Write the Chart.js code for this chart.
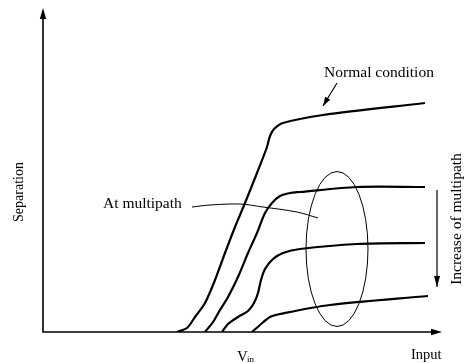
<!DOCTYPE html>
<html>
<head>
<meta charset="utf-8">
<script src="https://cdn.jsdelivr.net/npm/chart.js@4/dist/chart.umd.min.js"></script>
<style>
  html, body { margin: 0; padding: 0; background: #fff; }
  #wrap { width: 469px; height: 363px; }
</style>
</head>
<body>
<div id="wrap"><canvas id="chart" width="469" height="363"></canvas></div>
<script>
// Separation vs input curves (arbitrary units)
const normalCurve = [[134,0],[144,4],[152,15],[162,29],[172,52],[182,79],[192,105],[202,129],[214,159],[224,185],[227,196],[231,203],[240,209],[280,217],[382,229]];
const multipath1 = [[162,0],[170,10],[177,22],[185,35],[195,55],[205,79],[214,99],[222,119],[229,129],[237,136],[247,139],[257,140],[314,145],[382,145]];
const multipath2 = [[179,0],[185,8],[195,15],[205,21],[211,29],[215,39],[218,52],[222,63],[230,73],[240,79],[257,83],[314,88],[382,89]];
const multipath3 = [[209,0],[217,7],[227,15],[237,18],[287,27],[385,36]];

// annotations
const leaderLine = [[149,125],[167,127],[197,128],[220,125],[254,120],[275,114]];
const ellipse = { cx: 294, cy: 83, rx: 31, ry: 77.5 };
const normalArrow = [[294,249],[280,226]];
const increaseArrow = [[394,142],[394,45]];

const xMax = 399, yMax = 324;

const toPts = arr => arr.map(p => ({ x: p[0], y: p[1] }));

function curve(points, width) {
    return {
        data: toPts(points),
        showLine: true,
        borderColor: '#000',
        borderWidth: width,
        pointRadius: 0,
        tension: 0.3,
        fill: false
    };
}

function arrowHead(ctx, x1, y1, x2, y2, len, half) {
    const a = Math.atan2(y2 - y1, x2 - x1);
    ctx.beginPath();
    ctx.moveTo(x2, y2);
    ctx.lineTo(x2 - len * Math.cos(a) + half * Math.sin(a), y2 - len * Math.sin(a) - half * Math.cos(a));
    ctx.lineTo(x2 - len * Math.cos(a) - half * Math.sin(a), y2 - len * Math.sin(a) + half * Math.cos(a));
    ctx.closePath();
    ctx.fill();
}

// axes, ellipse, arrows and labels
const figurePlugin = {
    id: 'figure',
    beforeDatasetsDraw(chart) {
        const { ctx, chartArea: a } = chart;
        ctx.save();
        ctx.strokeStyle = '#000';
        ctx.fillStyle = '#000';
        ctx.lineWidth = 1.6;
        ctx.beginPath();
        ctx.moveTo(a.left, a.top + 8);
        ctx.lineTo(a.left, a.bottom);
        ctx.lineTo(a.right - 8, a.bottom);
        ctx.stroke();
        arrowHead(ctx, a.left, a.bottom, a.left, a.top, 11, 3.2);
        arrowHead(ctx, a.left, a.bottom, a.right, a.bottom, 11, 3.2);
        ctx.restore();
    },
    afterDatasetsDraw(chart) {
        const { ctx } = chart;
        const sx = chart.scales.x, sy = chart.scales.y;
        ctx.save();
        ctx.strokeStyle = '#000';
        ctx.fillStyle = '#000';

        // ellipse
        const cx = sx.getPixelForValue(ellipse.cx), cy = sy.getPixelForValue(ellipse.cy);
        const rx = sx.getPixelForValue(ellipse.cx + ellipse.rx) - cx;
        const ry = cy - sy.getPixelForValue(ellipse.cy + ellipse.ry);
        ctx.lineWidth = 1;
        ctx.beginPath();
        ctx.ellipse(cx, cy, rx, ry, 0, 0, Math.PI * 2);
        ctx.stroke();

        // arrows
        [[normalArrow, 9, 3], [increaseArrow, 11, 3]].forEach(([arr, len, half]) => {
            const x1 = sx.getPixelForValue(arr[0][0]), y1 = sy.getPixelForValue(arr[0][1]);
            const x2 = sx.getPixelForValue(arr[1][0]), y2 = sy.getPixelForValue(arr[1][1]);
            ctx.lineWidth = 1.2;
            ctx.beginPath();
            ctx.moveTo(x1, y1);
            ctx.lineTo(x2, y2);
            ctx.stroke();
            arrowHead(ctx, x1, y1, x2, y2, len, half);
        });

        // labels
        const serif = '"Liberation Serif", "DejaVu Serif", serif';
        ctx.textBaseline = 'alphabetic';
        ctx.font = '15.5px ' + serif;
        ctx.textAlign = 'center';
        ctx.fillText('Normal condition', 379, 77);
        ctx.textAlign = 'left';
        ctx.fillText('At multipath', 103, 208);

        ctx.font = '15px ' + serif;
        ctx.fillText('V', 237, 361);
        ctx.font = '9px ' + serif;
        ctx.fillText('in', 247, 362);
        ctx.font = '14.5px ' + serif;
        ctx.fillText('Input', 411, 359);

        ctx.textAlign = 'center';
        ctx.save();
        ctx.translate(23, 192);
        ctx.rotate(-Math.PI / 2);
        ctx.font = '14px ' + serif;
        ctx.fillText('Separation', 0, 0);
        ctx.restore();

        ctx.save();
        ctx.translate(461, 219);
        ctx.rotate(-Math.PI / 2);
        ctx.font = '15.5px ' + serif;
        ctx.fillText('Increase of multipath', 0, 0);
        ctx.restore();

        ctx.restore();
    }
};

new Chart(document.getElementById('chart'), {
    type: 'scatter',
    data: {
        datasets: [
            curve(normalCurve, 2.2),
            curve(multipath1, 2.2),
            curve(multipath2, 2.2),
            curve(multipath3, 2.2),
            curve(leaderLine, 1)
        ]
    },
    options: {
        responsive: false,
        devicePixelRatio: 1,
        animation: false,
        layout: { padding: { left: 43, right: 27, top: 8, bottom: 31 } },
        plugins: { legend: { display: false }, tooltip: { enabled: false } },
        scales: {
            x: { type: 'linear', min: 0, max: xMax, display: false },
            y: { type: 'linear', min: 0, max: yMax, display: false }
        }
    },
    plugins: [figurePlugin]
});
</script>
</body>
</html>
